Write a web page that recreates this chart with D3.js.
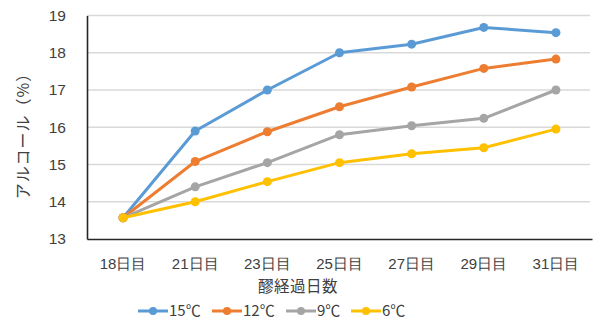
<!DOCTYPE html>
<html>
<head>
<meta charset="utf-8">
<script src="https://cdn.jsdelivr.net/npm/d3@7"></script>
<style>
  html, body { margin: 0; padding: 0; background: #fff; }
  svg { display: block; font-family: "Noto Sans CJK JP", "Noto Sans", sans-serif; }
</style>
</head>
<body>
<svg id="chart" width="595" height="323"></svg>
<script>
// Alcohol content (%) by days of moromi fermentation, per temperature
const categories = ["18日目", "21日目", "23日目", "25日目", "27日目", "29日目", "31日目"];
const seriesNames = ["15℃", "12℃", "9℃", "6℃"];
const seriesColors = ["#5B9BD5", "#ED7D31", "#A5A5A5", "#FFC000"];
const values15 = [13.57, 15.9, 17.0, 18.0, 18.23, 18.68, 18.54];
const values12 = [13.57, 15.08, 15.88, 16.55, 17.08, 17.58, 17.83];
const values9  = [13.57, 14.4, 15.05, 15.8, 16.04, 16.24, 17.0];
const values6  = [13.57, 14.0, 14.54, 15.05, 15.29, 15.45, 15.95];
const yTicks = [13, 14, 15, 16, 17, 18, 19];
const xTitle = "醪経過日数";
const yTitle = "アルコール（%）";

const seriesValues = [values15, values12, values9, values6];

const svg = d3.select("#chart");
const plot = { left: 87, right: 592, top: 15.5, bottom: 239 };

const x = d3.scaleBand().domain(categories).range([plot.left, plot.right]);
const y = d3.scaleLinear().domain([13, 19]).range([plot.bottom, plot.top]);

// horizontal gridlines
svg.append("g")
  .selectAll("line")
  .data(yTicks.slice(1))
  .join("line")
  .attr("x1", plot.left).attr("x2", plot.right - 2)
  .attr("y1", d => y(d)).attr("y2", d => y(d))
  .attr("stroke", "#d9d9d9").attr("stroke-width", 1.3);

// y axis
const yAxis = svg.append("g")
  .attr("transform", `translate(${plot.left},0)`)
  .call(d3.axisLeft(y).tickValues(yTicks).tickFormat(d3.format("d")).tickSize(0).tickPadding(21));
yAxis.select(".domain").attr("stroke", "#262626").attr("stroke-width", 1.6);
yAxis.selectAll("text").attr("font-size", 15.5).attr("fill", "#404040")
  .attr("font-family", "Liberation Sans, Arial, sans-serif");

// x axis
const xAxis = svg.append("g")
  .attr("transform", `translate(0,${plot.bottom})`)
  .call(d3.axisBottom(x).tickSize(0).tickPadding(19));
xAxis.select(".domain").attr("stroke", "#262626").attr("stroke-width", 1.6);
xAxis.selectAll("text").attr("font-size", 15).attr("fill", "#404040");

// axis titles
svg.append("text")
  .attr("x", 298).attr("y", 288)
  .attr("text-anchor", "middle").attr("dominant-baseline", "middle")
  .attr("font-size", 15.5).attr("letter-spacing", 0.5).attr("fill", "#404040")
  .text(xTitle);

svg.append("text")
  .attr("transform", "translate(25,132) rotate(-90)")
  .attr("text-anchor", "middle").attr("dominant-baseline", "middle")
  .attr("font-size", 16).attr("letter-spacing", 1).attr("fill", "#404040")
  .text(yTitle);

// series lines and markers
const line = d3.line()
  .x((d, i) => x(categories[i]) + x.bandwidth() / 2)
  .y(d => y(d));

seriesValues.forEach((vals, s) => {
  const g = svg.append("g");
  g.append("path")
    .attr("d", line(vals))
    .attr("fill", "none")
    .attr("stroke", seriesColors[s])
    .attr("stroke-width", 3)
    .attr("stroke-linejoin", "round");
  g.selectAll("circle")
    .data(vals)
    .join("circle")
    .attr("cx", (d, i) => x(categories[i]) + x.bandwidth() / 2)
    .attr("cy", d => y(d))
    .attr("r", 4.5)
    .attr("fill", seriesColors[s]);
});

// legend
const legendX = [138, 212, 286, 351];
const legend = svg.append("g");
seriesNames.forEach((name, s) => {
  const lg = legend.append("g").attr("transform", `translate(${legendX[s]},311)`);
  lg.append("line").attr("x1", 0).attr("x2", 30).attr("y1", 0).attr("y2", 0)
    .attr("stroke", seriesColors[s]).attr("stroke-width", 3);
  lg.append("circle").attr("cx", 15).attr("cy", 0).attr("r", 4).attr("fill", seriesColors[s]);
  lg.append("text").attr("x", 31).attr("y", 1)
    .attr("dominant-baseline", "middle")
    .attr("font-size", 15).attr("fill", "#404040")
    .text(name);
});
</script>
</body>
</html>
